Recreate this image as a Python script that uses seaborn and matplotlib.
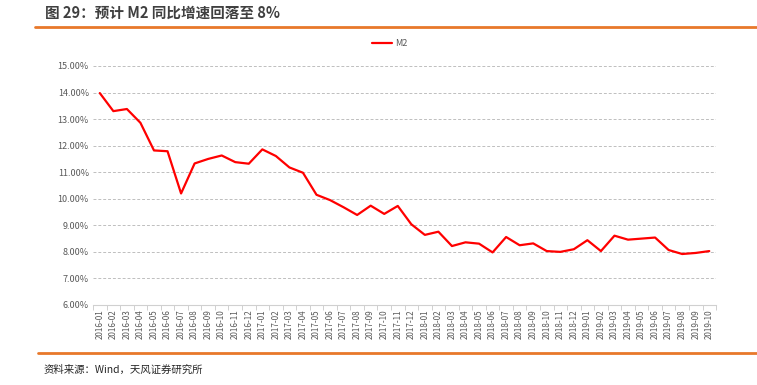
"""
M2 同比增速走势图
"""
import numpy as np
import pandas as pd
import matplotlib
matplotlib.use('Agg')
import matplotlib.pyplot as plt
import seaborn as sns
from matplotlib.lines import Line2D

# 月份
months = [f'{y}-{m:02d}' for y in range(2016, 2020) for m in range(1, 13)][:46]

# M2 同比增速 (%)
m2_yoy = [13.98, 13.30, 13.38, 12.86, 11.82, 11.79, 10.20, 11.33, 11.50, 11.63,
          11.38, 11.32, 11.86, 11.61, 11.18, 10.98, 10.15, 9.95, 9.68, 9.39,
          9.74, 9.43, 9.73, 9.04, 8.64, 8.76, 8.22, 8.36, 8.31, 7.98,
          8.56, 8.25, 8.32, 8.03, 8.00, 8.10, 8.44, 8.03, 8.61, 8.46,
          8.50, 8.54, 8.07, 7.92, 7.96, 8.03]

y_ticks = [6, 7, 8, 9, 10, 11, 12, 13, 14, 15]

df = pd.DataFrame({'pos': np.arange(len(months)), 'month': months, 'M2': m2_yoy})

sns.set_style('white')
plt.rcParams['font.family'] = ['Noto Sans CJK SC', 'DejaVu Sans']

ORANGE = '#E8782A'
GRAY = '#595959'

fig = plt.figure(figsize=(7.57, 3.85), dpi=100)
ax = fig.add_axes([0.1229, 0.2078, 0.8230, 0.6208])

sns.lineplot(data=df, x='pos', y='M2', color='#FF0000', linewidth=1.6, ax=ax)

ax.set_xlim(-0.5, len(months) - 0.5)
ax.set_ylim(6, 15)
ax.set_yticks(y_ticks)
ax.set_yticklabels([f'{v:.2f}%' for v in y_ticks], fontsize=6.5, color=GRAY)
ax.set_xticks(df['pos'])
ax.set_xticklabels(months, rotation=90, fontsize=5.8, color=GRAY)
ax.set_xticks(np.arange(-0.5, len(months)), minor=True)
ax.tick_params(axis='x', which='major', length=0, pad=3)
ax.tick_params(axis='x', which='minor', length=3.5, color='#D0D0D0', width=0.7, bottom=True)
ax.tick_params(axis='y', length=0, pad=3)
ax.set_xlabel('')
ax.set_ylabel('')

ax.grid(True, axis='y', color='#BFBFBF', linestyle=(0, (3, 2)), linewidth=0.7)
ax.grid(False, axis='x')
for side in ['top', 'right', 'left']:
    ax.spines[side].set_visible(False)
ax.spines['bottom'].set_color('#D0D0D0')
ax.spines['bottom'].set_linewidth(0.8)

# 图例
handle = Line2D([0], [0], color='#FF0000', linewidth=1.6)
fig.legend([handle], ['M2'], loc='center', bbox_to_anchor=(0.515, 0.886),
           frameon=False, fontsize=6.5, labelcolor=GRAY, handlelength=2.2,
           handletextpad=0.4)

# 标题与来源
fig.text(0.060, 0.967, '图 29：预计 M2 同比增速回落至 8%', fontsize=10.5,
         fontweight='bold', color='#404040', va='center', ha='left')
fig.add_artist(Line2D([0.046, 1.0], [0.930, 0.930], color=ORANGE, linewidth=2,
                      transform=fig.transFigure))
fig.add_artist(Line2D([0.050, 1.0], [0.083, 0.083], color=ORANGE, linewidth=2,
                      transform=fig.transFigure))
fig.text(0.058, 0.040, '资料来源：Wind，天风证券研究所', fontsize=7.5,
         color='#262626', va='center', ha='left')

fig.savefig('out.png', dpi=100)
plt.close(fig)
